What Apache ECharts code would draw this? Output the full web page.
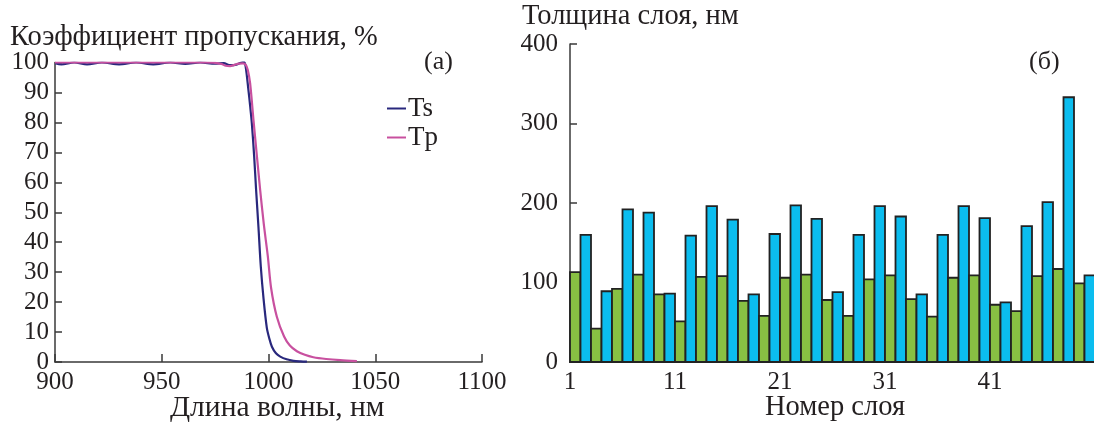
<!DOCTYPE html>
<html><head><meta charset="utf-8">
<script src="https://cdn.jsdelivr.net/npm/echarts@6/dist/echarts.min.js"></script>
<style>html,body{margin:0;padding:0;background:#fff}#c{width:1094px;height:423px}</style>
</head><body><div id="c"></div>
<script>
// ---- Panel (a): transmission spectra ----
const tsWavelength = [900, 903, 909, 915, 922, 930, 938, 946, 954, 961, 968, 975, 979, 982, 985, 987, 988.5, 989.3, 990.6, 991.4, 992.2, 993.3, 994.2, 995.3, 996.4, 997.7, 999.2, 1000.4, 1001.6, 1003.5, 1005.5, 1008.5, 1011.7, 1015, 1018];
const tsTransmission = [99.8, 99.4, 100, 99.4, 100, 99.4, 100, 99.4, 100, 99.5, 100, 99.6, 99.8, 99.1, 99.3, 99.9, 100.2, 98.6, 90.8, 85.5, 79.7, 68.5, 57.4, 45, 31.8, 21, 11.5, 7.8, 5.1, 2.9, 1.8, 0.9, 0.4, 0.2, 0.1];
const tpWavelength = [900, 920, 940, 960, 970, 975, 978, 980, 982, 984, 986, 988, 989.3, 990.3, 991.4, 993, 994.6, 996.1, 997.8, 999.7, 1001.2, 1003.9, 1007.3, 1010, 1013.3, 1017, 1021, 1027, 1033.6, 1041.4];
const tpTransmission = [100, 100, 100, 100, 100, 99.9, 99.5, 98.9, 98.8, 99.2, 99.6, 99.7, 99.3, 97.5, 93, 80.5, 68.5, 57.4, 46, 35.2, 24.8, 15.1, 8.5, 5.5, 3.6, 2.4, 1.6, 1.0, 0.6, 0.3];

// ---- Panel (б): layer thickness ----
const layerNumbers = [1, 2, 3, 4, 5, 6, 7, 8, 9, 10, 11, 12, 13, 14, 15, 16, 17, 18, 19, 20, 21, 22, 23, 24, 25, 26, 27, 28, 29, 30, 31, 32, 33, 34, 35, 36, 37, 38, 39, 40, 41, 42, 43, 44, 45, 46, 47, 48, 49, 50];
const layerThickness = [113, 160, 42, 89, 92, 192, 110, 188, 85, 86, 51, 159, 107, 196, 108, 179, 77, 85, 58, 161, 106, 197, 110, 180, 78, 88, 58, 160, 104, 196, 109, 183, 79, 85, 57, 160, 106, 196, 109, 181, 72, 75, 64, 171, 108, 201, 117, 333, 99, 109];

const FONT = 'Liberation Serif';
const TXT = '#231f20';
const AX = '#3a3a3a';
const NAME_SIZE = 28.5;
const GREEN = '#88c043';
const BLUE = '#0bbdef';
const BAR_EDGE = '#222222';

const zip = (a, b) => a.map((v, i) => [v, b[i]]);

const chart = echarts.init(document.getElementById('c'), null, {renderer: 'canvas'});
const labelStyle = {color: TXT, fontFamily: FONT, fontSize: 25};
const nameStyle = {color: TXT, fontFamily: FONT, fontSize: NAME_SIZE, fontWeight: 'normal'};
const plain = v => String(v);

chart.setOption({
  animation: false,
  backgroundColor: '#fff',
  title: [
    {text: 'Коэффициент пропускания, %', left: 10, top: 23, padding: 0, textStyle: nameStyle},
    {text: '(а)', left: 424, top: 49, padding: 0, textStyle: Object.assign({}, nameStyle, {fontSize: 26})},
    {text: 'Длина волны, нм', left: 170, top: 393, padding: 0, textStyle: Object.assign({}, nameStyle, {fontSize: 29.5})},
    {text: 'Толщина слоя, нм', left: 522, top: 2, padding: 0, textStyle: nameStyle},
    {text: '(б)', left: 1029, top: 49, padding: 0, textStyle: Object.assign({}, nameStyle, {fontSize: 26})},
    {text: 'Номер слоя', left: 765, top: 393, padding: 0, textStyle: nameStyle}
  ],
  legend: {
    data: ['Ts', 'Tp'],
    orient: 'vertical',
    left: 387, top: 95,
    icon: 'rect', itemWidth: 19, itemHeight: 2, itemGap: 2,
    textStyle: {color: TXT, fontFamily: FONT, fontSize: 27, padding: [0, 0, 0, -3]},
    padding: 0
  },
  grid: [
    {left: 55, right: 612, top: 62.5, bottom: 61, containLabel: false, outerBoundsMode: 'none'},
    {left: 570, right: -1, top: 44, bottom: 61, containLabel: false, outerBoundsMode: 'none'}
  ],
  xAxis: [
    {type: 'value', gridIndex: 0, min: 900, max: 1100, interval: 50, position: 'bottom',
     axisLine: {show: true, lineStyle: {color: AX, width: 1.5}},
     axisTick: {show: true, inside: true, length: 8, lineStyle: {color: AX, width: 1.5}},
     axisLabel: Object.assign({margin: 8, formatter: plain}, labelStyle), splitLine: {show: false}},
    {type: 'value', gridIndex: 1, min: 1, max: 51, interval: 10, position: 'bottom',
     axisLine: {show: true, onZero: false, lineStyle: {color: AX, width: 1.5}},
     axisTick: {show: true, inside: true, length: 5, lineStyle: {color: AX, width: 1}},
     axisLabel: Object.assign({margin: 8, showMaxLabel: false, formatter: plain}, labelStyle), splitLine: {show: false}}
  ],
  yAxis: [
    {type: 'value', gridIndex: 0, min: 0, max: 100, interval: 10,
     axisLine: {show: true, lineStyle: {color: AX, width: 1.5}},
     axisTick: {show: true, inside: true, length: 7, lineStyle: {color: AX, width: 1.5}},
     axisLabel: Object.assign({margin: 6, formatter: plain}, labelStyle), splitLine: {show: false}},
    {type: 'value', gridIndex: 1, min: 0, max: 400, interval: 100,
     axisLine: {show: true, onZero: false, lineStyle: {color: AX, width: 1.5}},
     axisTick: {show: true, inside: true, length: 7, lineStyle: {color: AX, width: 1.5}},
     axisLabel: Object.assign({margin: 12, formatter: plain}, labelStyle), splitLine: {show: false}}
  ],
  series: [
    {name: 'Ts', type: 'line', xAxisIndex: 0, yAxisIndex: 0, data: zip(tsWavelength, tsTransmission),
     showSymbol: false, smooth: 0.3, lineStyle: {color: '#29287d', width: 2.2}, itemStyle: {color: '#29287d'}, z: 3},
    {name: 'Tp', type: 'line', xAxisIndex: 0, yAxisIndex: 0, data: zip(tpWavelength, tpTransmission),
     showSymbol: false, smooth: 0.3, lineStyle: {color: '#c8509f', width: 2.2}, itemStyle: {color: '#c8509f'}, z: 4},
    {name: 'thickness', type: 'custom', xAxisIndex: 1, yAxisIndex: 1,
     data: zip(layerNumbers, layerThickness),
     encode: {x: 0, y: 1},
     renderItem: (params, api) => {
       const n = api.value(0), v = api.value(1);
       const base = api.coord([n, 0]);
       const top = api.coord([n + 1, v]);
       return {
         type: 'rect',
         shape: {x: base[0], y: top[1], width: top[0] - base[0], height: base[1] - top[1]},
         style: {fill: n % 2 === 1 ? GREEN : BLUE, stroke: BAR_EDGE, lineWidth: 1.8}
       };
     }, z: 2}
  ]
});
</script></body></html>
